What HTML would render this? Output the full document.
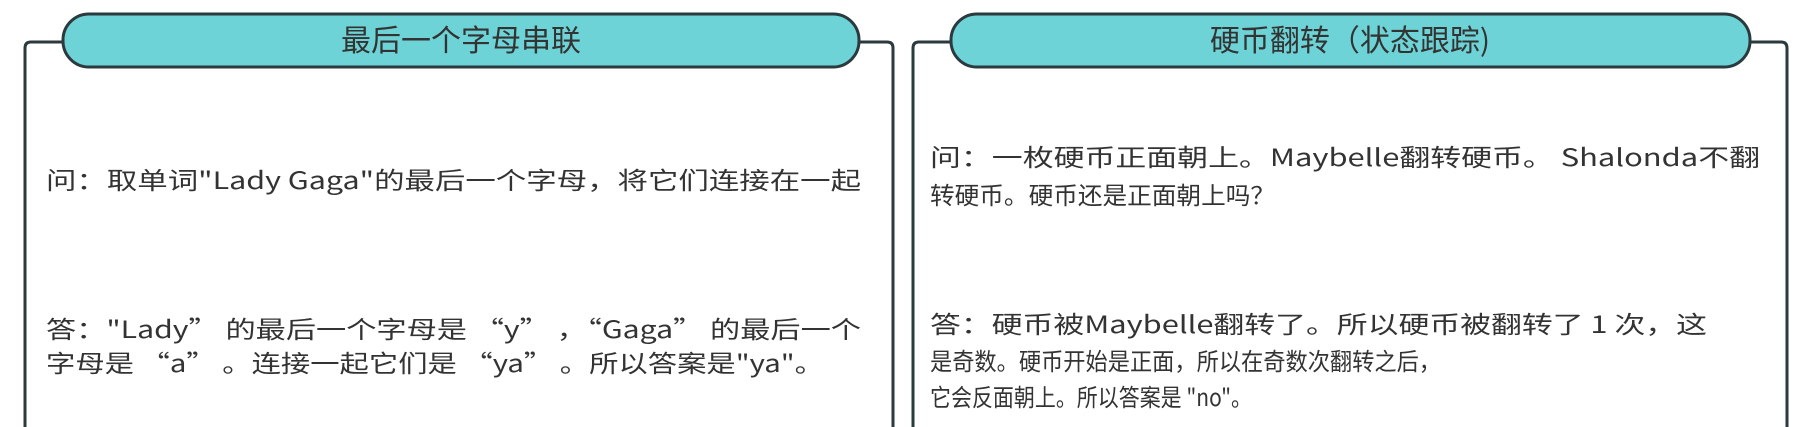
<!DOCTYPE html>
<html><head><meta charset="utf-8"><style>
html,body{margin:0;padding:0;background:#fff;width:1796px;height:427px;overflow:hidden}
svg text{font-family:"Noto Sans CJK SC","Liberation Sans",sans-serif;fill:#333}
</style></head><body>
<svg width="1796" height="427" viewBox="0 0 1796 427" xmlns="http://www.w3.org/2000/svg">
<g fill="none" stroke="#2b3a3e" stroke-width="3">
<path d="M25 430 V48 Q25 42 31 42 H63"/>
<path d="M859 42 H887 Q893 42 893 48 V430"/>
<path d="M913 430 V48 Q913 42 919 42 H951"/>
<path d="M1750 42 H1781 Q1787 42 1787 48 V430"/>
</g>
<rect x="63" y="14" width="796" height="53" rx="26" fill="#6dd3d6" stroke="#2b3a3e" stroke-width="3"/>
<rect x="951" y="14" width="799" height="53" rx="26" fill="#6dd3d6" stroke="#2b3a3e" stroke-width="3"/>
<text x="461" y="51" font-size="30" text-anchor="middle">最后一个字母串联</text>
<text x="1350" y="51" font-size="30" text-anchor="middle">硬币翻转（状态跟踪)</text>
<g font-size="24">
<text x="46" y="189" textLength="815" lengthAdjust="spacingAndGlyphs">问：取单词"Lady Gaga"的最后一个字母，将它们连接在一起</text>
<text x="46" y="338" textLength="815" lengthAdjust="spacingAndGlyphs">答："Lady” 的最后一个字母是 “y” ，“Gaga” 的最后一个</text>
<text x="46" y="372" textLength="778" lengthAdjust="spacingAndGlyphs">字母是 “a” 。连接一起它们是 “ya” 。所以答案是"ya"。</text>
<text x="930" y="166" textLength="830" lengthAdjust="spacingAndGlyphs">问：一枚硬币正面朝上。Maybelle翻转硬币。 Shalonda不翻</text>
<text x="930" y="204" textLength="345" lengthAdjust="spacingAndGlyphs">转硬币。硬币还是正面朝上吗？</text>
<text x="930" y="333" textLength="777" lengthAdjust="spacingAndGlyphs">答：硬币被Maybelle翻转了。所以硬币被翻转了 1 次，这</text>
<text x="930" y="370" textLength="511" lengthAdjust="spacingAndGlyphs">是奇数。硬币开始是正面，所以在奇数次翻转之后，</text>
<text x="930" y="406" textLength="322" lengthAdjust="spacingAndGlyphs">它会反面朝上。所以答案是 "no"。</text>
</g>
</svg>
</body></html>
